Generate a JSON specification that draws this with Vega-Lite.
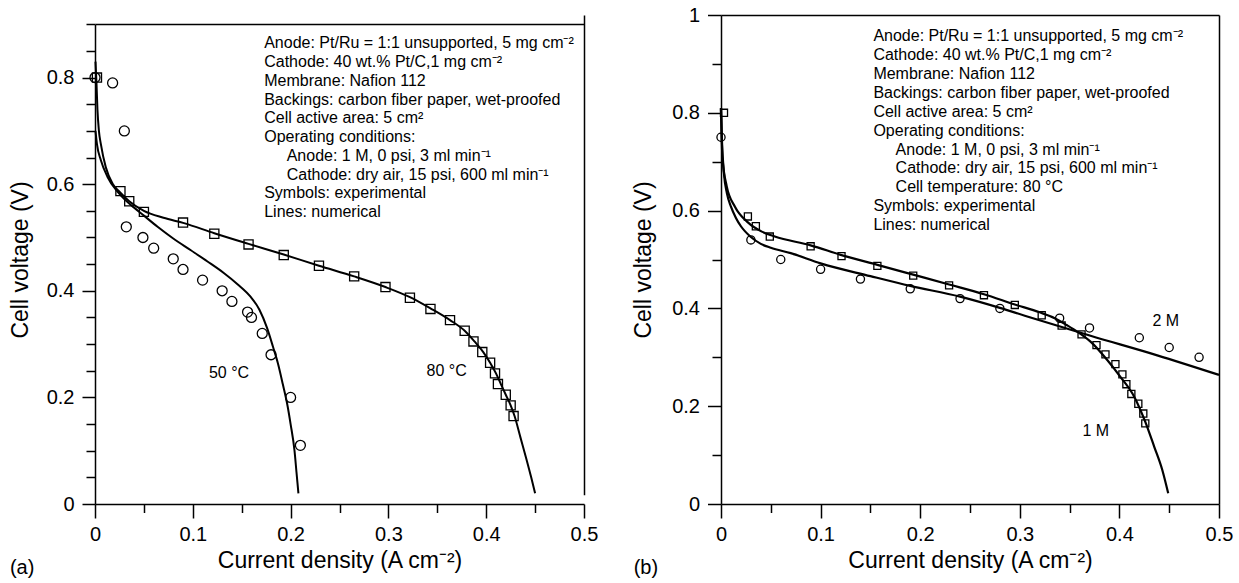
{
  "$schema": "https://vega.github.io/schema/vega-lite/v6.json",
  "padding": {"left": 9, "top": 5, "right": 5, "bottom": 5},
  "spacing": 34,
  "config": {
    "font": "Liberation Sans",
    "view": {"stroke": null},
    "axis": {"domainColor": "black", "domainWidth": 1.5, "tickColor": "black", "tickWidth": 1.5, "labelColor": "black", "titleColor": "black", "labelFontSize": 20, "titleFontSize": 23, "titleFontWeight": "normal", "gridColor": "black", "gridWidth": 1.5, "labelFont": "Liberation Sans", "titleFont": "Liberation Sans"},
    "text": {"font": "Liberation Sans", "color": "black"}
  },
  "datasets": {
    "a_lines": [
      {"series": "80 °C", "x": 0.0005, "y": 0.83}, {"series": "80 °C", "x": 0.0015, "y": 0.79}, {"series": "80 °C", "x": 0.0025, "y": 0.74}, {"series": "80 °C", "x": 0.004, "y": 0.70}, {"series": "80 °C", "x": 0.006, "y": 0.675}, {"series": "80 °C", "x": 0.011, "y": 0.632}, {"series": "80 °C", "x": 0.018, "y": 0.601}, {"series": "80 °C", "x": 0.026, "y": 0.584}, {"series": "80 °C", "x": 0.035, "y": 0.568}, {"series": "80 °C", "x": 0.05, "y": 0.55}, {"series": "80 °C", "x": 0.07, "y": 0.537}, {"series": "80 °C", "x": 0.091, "y": 0.527}, {"series": "80 °C", "x": 0.122, "y": 0.508}, {"series": "80 °C", "x": 0.157, "y": 0.488}, {"series": "80 °C", "x": 0.193, "y": 0.468}, {"series": "80 °C", "x": 0.229, "y": 0.447}, {"series": "80 °C", "x": 0.265, "y": 0.427}, {"series": "80 °C", "x": 0.297, "y": 0.407}, {"series": "80 °C", "x": 0.322, "y": 0.388}, {"series": "80 °C", "x": 0.343, "y": 0.367}, {"series": "80 °C", "x": 0.363, "y": 0.345}, {"series": "80 °C", "x": 0.378, "y": 0.325}, {"series": "80 °C", "x": 0.388, "y": 0.305}, {"series": "80 °C", "x": 0.397, "y": 0.285}, {"series": "80 °C", "x": 0.404, "y": 0.265}, {"series": "80 °C", "x": 0.41, "y": 0.245}, {"series": "80 °C", "x": 0.415, "y": 0.225}, {"series": "80 °C", "x": 0.42, "y": 0.205}, {"series": "80 °C", "x": 0.425, "y": 0.185}, {"series": "80 °C", "x": 0.429, "y": 0.165}, {"series": "80 °C", "x": 0.435, "y": 0.125}, {"series": "80 °C", "x": 0.441, "y": 0.085}, {"series": "80 °C", "x": 0.446, "y": 0.05}, {"series": "80 °C", "x": 0.45, "y": 0.02},
      {"series": "50 °C", "x": 0.0005, "y": 0.70}, {"series": "50 °C", "x": 0.002, "y": 0.675}, {"series": "50 °C", "x": 0.006, "y": 0.645}, {"series": "50 °C", "x": 0.0127, "y": 0.614}, {"series": "50 °C", "x": 0.023, "y": 0.586}, {"series": "50 °C", "x": 0.03, "y": 0.572}, {"series": "50 °C", "x": 0.04, "y": 0.556}, {"series": "50 °C", "x": 0.05, "y": 0.541}, {"series": "50 °C", "x": 0.064, "y": 0.52}, {"series": "50 °C", "x": 0.08, "y": 0.498}, {"series": "50 °C", "x": 0.098, "y": 0.476}, {"series": "50 °C", "x": 0.115, "y": 0.455}, {"series": "50 °C", "x": 0.132, "y": 0.433}, {"series": "50 °C", "x": 0.146, "y": 0.412}, {"series": "50 °C", "x": 0.159, "y": 0.389}, {"series": "50 °C", "x": 0.168, "y": 0.365}, {"series": "50 °C", "x": 0.176, "y": 0.33}, {"series": "50 °C", "x": 0.182, "y": 0.295}, {"series": "50 °C", "x": 0.187, "y": 0.264}, {"series": "50 °C", "x": 0.192, "y": 0.225}, {"series": "50 °C", "x": 0.197, "y": 0.183}, {"series": "50 °C", "x": 0.2, "y": 0.15}, {"series": "50 °C", "x": 0.204, "y": 0.1}, {"series": "50 °C", "x": 0.206, "y": 0.06}, {"series": "50 °C", "x": 0.208, "y": 0.02}
    ],
    "a_points": [
      {"series": "50 °C", "x": 0, "y": 0.8}, {"series": "50 °C", "x": 0.018, "y": 0.79}, {"series": "50 °C", "x": 0.03, "y": 0.70}, {"series": "50 °C", "x": 0.032, "y": 0.52}, {"series": "50 °C", "x": 0.049, "y": 0.50}, {"series": "50 °C", "x": 0.06, "y": 0.48}, {"series": "50 °C", "x": 0.08, "y": 0.46}, {"series": "50 °C", "x": 0.09, "y": 0.44}, {"series": "50 °C", "x": 0.11, "y": 0.42}, {"series": "50 °C", "x": 0.13, "y": 0.40}, {"series": "50 °C", "x": 0.14, "y": 0.38}, {"series": "50 °C", "x": 0.156, "y": 0.36}, {"series": "50 °C", "x": 0.16, "y": 0.35}, {"series": "50 °C", "x": 0.171, "y": 0.32}, {"series": "50 °C", "x": 0.18, "y": 0.28}, {"series": "50 °C", "x": 0.2, "y": 0.2}, {"series": "50 °C", "x": 0.21, "y": 0.11},
      {"series": "80 °C", "x": 0.002, "y": 0.8}, {"series": "80 °C", "x": 0.026, "y": 0.587}, {"series": "80 °C", "x": 0.035, "y": 0.568}, {"series": "80 °C", "x": 0.05, "y": 0.548}, {"series": "80 °C", "x": 0.09, "y": 0.528}, {"series": "80 °C", "x": 0.122, "y": 0.507}, {"series": "80 °C", "x": 0.157, "y": 0.487}, {"series": "80 °C", "x": 0.193, "y": 0.467}, {"series": "80 °C", "x": 0.229, "y": 0.447}, {"series": "80 °C", "x": 0.265, "y": 0.427}, {"series": "80 °C", "x": 0.297, "y": 0.407}, {"series": "80 °C", "x": 0.322, "y": 0.387}, {"series": "80 °C", "x": 0.343, "y": 0.366}, {"series": "80 °C", "x": 0.363, "y": 0.345}, {"series": "80 °C", "x": 0.378, "y": 0.325}, {"series": "80 °C", "x": 0.387, "y": 0.305}, {"series": "80 °C", "x": 0.396, "y": 0.285}, {"series": "80 °C", "x": 0.404, "y": 0.265}, {"series": "80 °C", "x": 0.409, "y": 0.245}, {"series": "80 °C", "x": 0.412, "y": 0.225}, {"series": "80 °C", "x": 0.42, "y": 0.205}, {"series": "80 °C", "x": 0.425, "y": 0.185}, {"series": "80 °C", "x": 0.428, "y": 0.165}
    ],
    "a_labels": [
      {"label": "50 °C", "x": 0.137, "y": 0.245},
      {"label": "80 °C", "x": 0.3595, "y": 0.25}
    ],
    "a_tag": [{"tag": "(a)", "x": -0.087, "y": -0.131}],
    "a_notes": [
      {"text": "Anode: Pt/Ru = 1:1 unsupported, 5 mg cm⁻²", "x": 0.173, "y": 0.855},
      {"text": "Cathode: 40 wt.% Pt/C,1 mg cm⁻²", "x": 0.173, "y": 0.8198},
      {"text": "Membrane: Nafion 112", "x": 0.173, "y": 0.7846},
      {"text": "Backings: carbon fiber paper, wet-proofed", "x": 0.173, "y": 0.7494},
      {"text": "Cell active area: 5 cm²", "x": 0.173, "y": 0.7142},
      {"text": "Operating conditions:", "x": 0.173, "y": 0.679},
      {"text": "Anode: 1 M, 0 psi, 3 ml min⁻¹", "x": 0.196, "y": 0.6438},
      {"text": "Cathode: dry air, 15 psi, 600 ml min⁻¹", "x": 0.196, "y": 0.6086},
      {"text": "Symbols: experimental", "x": 0.173, "y": 0.5734},
      {"text": "Lines: numerical", "x": 0.173, "y": 0.5382}
    ],
    "b_lines": [
      {"series": "1 M", "x": 0, "y": 0.81}, {"series": "1 M", "x": 0.0014, "y": 0.71}, {"series": "1 M", "x": 0.0057, "y": 0.65}, {"series": "1 M", "x": 0.014, "y": 0.608}, {"series": "1 M", "x": 0.027, "y": 0.576}, {"series": "1 M", "x": 0.041, "y": 0.557}, {"series": "1 M", "x": 0.054, "y": 0.547}, {"series": "1 M", "x": 0.09, "y": 0.529}, {"series": "1 M", "x": 0.121, "y": 0.509}, {"series": "1 M", "x": 0.157, "y": 0.489}, {"series": "1 M", "x": 0.193, "y": 0.469}, {"series": "1 M", "x": 0.229, "y": 0.449}, {"series": "1 M", "x": 0.264, "y": 0.429}, {"series": "1 M", "x": 0.295, "y": 0.408}, {"series": "1 M", "x": 0.32, "y": 0.392}, {"series": "1 M", "x": 0.335, "y": 0.38}, {"series": "1 M", "x": 0.347, "y": 0.366}, {"series": "1 M", "x": 0.358, "y": 0.352}, {"series": "1 M", "x": 0.371, "y": 0.332}, {"series": "1 M", "x": 0.388, "y": 0.294}, {"series": "1 M", "x": 0.401, "y": 0.26}, {"series": "1 M", "x": 0.415, "y": 0.219}, {"series": "1 M", "x": 0.426, "y": 0.168}, {"series": "1 M", "x": 0.435, "y": 0.117}, {"series": "1 M", "x": 0.443, "y": 0.07}, {"series": "1 M", "x": 0.449, "y": 0.022},
      {"series": "2 M", "x": 0, "y": 0.81}, {"series": "2 M", "x": 0.001, "y": 0.74}, {"series": "2 M", "x": 0.003, "y": 0.675}, {"series": "2 M", "x": 0.006, "y": 0.635}, {"series": "2 M", "x": 0.01, "y": 0.608}, {"series": "2 M", "x": 0.015, "y": 0.585}, {"series": "2 M", "x": 0.02, "y": 0.568}, {"series": "2 M", "x": 0.03, "y": 0.546}, {"series": "2 M", "x": 0.04, "y": 0.532}, {"series": "2 M", "x": 0.05, "y": 0.524}, {"series": "2 M", "x": 0.07, "y": 0.513}, {"series": "2 M", "x": 0.1, "y": 0.492}, {"series": "2 M", "x": 0.15, "y": 0.466}, {"series": "2 M", "x": 0.19, "y": 0.446}, {"series": "2 M", "x": 0.24, "y": 0.424}, {"series": "2 M", "x": 0.28, "y": 0.401}, {"series": "2 M", "x": 0.305, "y": 0.385}, {"series": "2 M", "x": 0.371, "y": 0.344}, {"series": "2 M", "x": 0.438, "y": 0.304}, {"series": "2 M", "x": 0.5, "y": 0.264}
    ],
    "b_points": [
      {"series": "2 M", "x": 0, "y": 0.75}, {"series": "2 M", "x": 0.03, "y": 0.54}, {"series": "2 M", "x": 0.06, "y": 0.50}, {"series": "2 M", "x": 0.1, "y": 0.48}, {"series": "2 M", "x": 0.14, "y": 0.46}, {"series": "2 M", "x": 0.19, "y": 0.44}, {"series": "2 M", "x": 0.24, "y": 0.42}, {"series": "2 M", "x": 0.28, "y": 0.40}, {"series": "2 M", "x": 0.34, "y": 0.38}, {"series": "2 M", "x": 0.37, "y": 0.36}, {"series": "2 M", "x": 0.42, "y": 0.34}, {"series": "2 M", "x": 0.45, "y": 0.32}, {"series": "2 M", "x": 0.48, "y": 0.30},
      {"series": "1 M", "x": 0.003, "y": 0.80}, {"series": "1 M", "x": 0.027, "y": 0.588}, {"series": "1 M", "x": 0.035, "y": 0.568}, {"series": "1 M", "x": 0.049, "y": 0.547}, {"series": "1 M", "x": 0.09, "y": 0.527}, {"series": "1 M", "x": 0.121, "y": 0.507}, {"series": "1 M", "x": 0.157, "y": 0.487}, {"series": "1 M", "x": 0.193, "y": 0.467}, {"series": "1 M", "x": 0.229, "y": 0.447}, {"series": "1 M", "x": 0.264, "y": 0.427}, {"series": "1 M", "x": 0.295, "y": 0.407}, {"series": "1 M", "x": 0.322, "y": 0.386}, {"series": "1 M", "x": 0.342, "y": 0.365}, {"series": "1 M", "x": 0.362, "y": 0.347}, {"series": "1 M", "x": 0.377, "y": 0.325}, {"series": "1 M", "x": 0.386, "y": 0.306}, {"series": "1 M", "x": 0.396, "y": 0.286}, {"series": "1 M", "x": 0.403, "y": 0.265}, {"series": "1 M", "x": 0.407, "y": 0.245}, {"series": "1 M", "x": 0.412, "y": 0.225}, {"series": "1 M", "x": 0.419, "y": 0.205}, {"series": "1 M", "x": 0.424, "y": 0.185}, {"series": "1 M", "x": 0.426, "y": 0.165}
    ],
    "b_labels": [
      {"label": "2 M", "x": 0.4466, "y": 0.374},
      {"label": "1 M", "x": 0.3763, "y": 0.149}
    ],
    "b_tag": [{"tag": "(b)", "x": -0.0877, "y": -0.144}],
    "b_notes": [
      {"text": "Anode: Pt/Ru = 1:1 unsupported, 5 mg cm⁻²", "x": 0.153, "y": 0.9475},
      {"text": "Cathode: 40 wt.% Pt/C,1 mg cm⁻²", "x": 0.153, "y": 0.9087},
      {"text": "Membrane: Nafion 112", "x": 0.153, "y": 0.8699},
      {"text": "Backings: carbon fiber paper, wet-proofed", "x": 0.153, "y": 0.8311},
      {"text": "Cell active area: 5 cm²", "x": 0.153, "y": 0.7923},
      {"text": "Operating conditions:", "x": 0.153, "y": 0.7535},
      {"text": "Anode: 1 M, 0 psi, 3 ml min⁻¹", "x": 0.1753, "y": 0.7147},
      {"text": "Cathode: dry air, 15 psi, 600 ml min⁻¹", "x": 0.1753, "y": 0.6759},
      {"text": "Cell temperature: 80 °C", "x": 0.1753, "y": 0.6371},
      {"text": "Symbols: experimental", "x": 0.153, "y": 0.5983},
      {"text": "Lines: numerical", "x": 0.153, "y": 0.5595}
    ]
  },
  "hconcat": [
    {
      "width": 489,
      "height": 489,
      "layer": [
        {
          "data": {"name": "a_lines"},
          "mark": {"type": "line", "color": "black", "strokeWidth": 2, "interpolate": "monotone"},
          "encoding": {
            "x": {"field": "x", "type": "quantitative", "scale": {"domain": [0, 0.5], "nice": false, "zero": false},
              "axis": {"title": "Current density (A cm⁻²)", "tickValues": [0,0.02,0.04,0.06,0.08,0.1,0.12,0.14,0.16,0.18,0.2,0.22,0.24,0.26,0.28,0.3,0.32,0.34,0.36,0.38,0.4,0.42,0.44,0.46,0.48,0.5], "format": "~g",
                "labelExpr": "abs(round(datum.value*10)-datum.value*10)<1e-6 ? datum.label : ''",
                "tickSize": {"condition": {"test": "abs(round(datum.value*10)-datum.value*10)<1e-6", "value": 14}, "value": 8.5},
                "grid": true, "gridDash": [479.7, 60],
                "gridOpacity": {"condition": {"test": "datum.value > 0.499", "value": 1}, "value": 0},
                "labelPadding": 6, "titlePadding": 5, "labelFlush": false, "labelOverlap": false}},
            "y": {"field": "y", "type": "quantitative", "scale": {"domain": [0, 0.9174], "nice": false, "zero": false},
              "axis": {"title": "Cell voltage (V)", "domain": true, "domainDash": [479.7, 60], "tickValues": [0,0.05,0.1,0.15,0.2,0.25,0.3,0.35,0.4,0.45,0.5,0.55,0.6,0.65,0.7,0.75,0.8,0.85,0.9], "format": "~g",
                "labelExpr": "abs(round(datum.value*5)-datum.value*5)<1e-6 ? datum.label : ''",
                "tickSize": {"condition": {"test": "abs(round(datum.value*5)-datum.value*5)<1e-6", "value": 13}, "value": 9},
                "grid": true,
                "gridOpacity": {"condition": {"test": "datum.value > 0.899", "value": 1}, "value": 0},
                "labelPadding": 8, "titlePadding": 14, "labelFlush": false, "labelOverlap": false}},
            "detail": {"field": "series", "type": "nominal"}
          }
        },
        {
          "data": {"name": "a_points"},
          "mark": {"type": "point", "filled": false, "color": "black", "strokeWidth": 1.3, "opacity": 1},
          "encoding": {
            "x": {"field": "x", "type": "quantitative", "scale": {"domain": [0, 0.5], "nice": false, "zero": false}},
            "y": {"field": "y", "type": "quantitative", "scale": {"domain": [0, 0.9174], "nice": false, "zero": false}},
            "shape": {"field": "series", "type": "nominal", "scale": {"domain": ["50 °C", "80 °C"], "range": ["circle", "square"]}, "legend": null},
            "size": {"field": "series", "type": "nominal", "scale": {"domain": ["50 °C", "80 °C"], "range": [100, 50]}, "legend": null}
          }
        },
        {
          "data": {"name": "a_labels"},
          "mark": {"type": "text", "fontSize": 16, "align": "center", "baseline": "middle"},
          "encoding": {
            "x": {"field": "x", "type": "quantitative", "scale": {"domain": [0, 0.5], "nice": false, "zero": false}},
            "y": {"field": "y", "type": "quantitative", "scale": {"domain": [0, 0.9174], "nice": false, "zero": false}},
            "text": {"field": "label", "type": "nominal"}
          }
        },
        {
          "data": {"name": "a_notes"},
          "mark": {"type": "text", "fontSize": 16, "align": "left", "baseline": "alphabetic"},
          "encoding": {
            "x": {"field": "x", "type": "quantitative", "scale": {"domain": [0, 0.5], "nice": false, "zero": false}},
            "y": {"field": "y", "type": "quantitative", "scale": {"domain": [0, 0.9174], "nice": false, "zero": false}},
            "text": {"field": "text", "type": "nominal"}
          }
        },
        {
          "data": {"name": "a_tag"},
          "mark": {"type": "text", "fontSize": 20, "align": "left", "baseline": "alphabetic"},
          "encoding": {
            "x": {"field": "x", "type": "quantitative", "scale": {"domain": [0, 0.5], "nice": false, "zero": false}},
            "y": {"field": "y", "type": "quantitative", "scale": {"domain": [0, 0.9174], "nice": false, "zero": false}},
            "text": {"field": "tag", "type": "nominal"}
          }
        }
      ]
    },
    {
      "width": 498,
      "height": 489,
      "layer": [
        {
          "data": {"name": "b_lines"},
          "mark": {"type": "line", "color": "black", "strokeWidth": 2.2, "interpolate": "monotone"},
          "encoding": {
            "x": {"field": "x", "type": "quantitative", "scale": {"domain": [0, 0.5], "nice": false, "zero": false},
              "axis": {"title": "Current density (A cm⁻²)", "tickValues": [0,0.02,0.04,0.06,0.08,0.1,0.12,0.14,0.16,0.18,0.2,0.22,0.24,0.26,0.28,0.3,0.32,0.34,0.36,0.38,0.4,0.42,0.44,0.46,0.48,0.5], "format": "~g",
                "labelExpr": "abs(round(datum.value*10)-datum.value*10)<1e-6 ? datum.label : ''",
                "tickSize": {"condition": {"test": "abs(round(datum.value*10)-datum.value*10)<1e-6", "value": 14}, "value": 8.5},
                "grid": true,
                "gridOpacity": {"condition": {"test": "datum.value > 0.499", "value": 1}, "value": 0},
                "labelPadding": 6, "titlePadding": 5, "labelFlush": false, "labelOverlap": false}},
            "y": {"field": "y", "type": "quantitative", "scale": {"domain": [0, 1], "nice": false, "zero": false},
              "axis": {"title": "Cell voltage (V)", "tickValues": [0,0.05,0.1,0.15,0.2,0.25,0.3,0.35,0.4,0.45,0.5,0.55,0.6,0.65,0.7,0.75,0.8,0.85,0.9,0.95,1], "format": "~g",
                "labelExpr": "abs(round(datum.value*5)-datum.value*5)<1e-6 ? datum.label : ''",
                "tickSize": {"condition": {"test": "abs(round(datum.value*5)-datum.value*5)<1e-6", "value": 13.5}, "value": 9},
                "grid": true,
                "gridOpacity": {"condition": {"test": "datum.value > 0.999", "value": 1}, "value": 0},
                "labelPadding": 8, "titlePadding": 16, "labelFlush": false, "labelOverlap": false}},
            "detail": {"field": "series", "type": "nominal"}
          }
        },
        {
          "data": {"name": "b_points"},
          "mark": {"type": "point", "filled": false, "color": "black", "strokeWidth": 1.3, "opacity": 1},
          "encoding": {
            "x": {"field": "x", "type": "quantitative", "scale": {"domain": [0, 0.5], "nice": false, "zero": false}},
            "y": {"field": "y", "type": "quantitative", "scale": {"domain": [0, 1], "nice": false, "zero": false}},
            "shape": {"field": "series", "type": "nominal", "scale": {"domain": ["2 M", "1 M"], "range": ["circle", "square"]}, "legend": null},
            "size": {"field": "series", "type": "nominal", "scale": {"domain": ["2 M", "1 M"], "range": [100, 50]}, "legend": null}
          }
        },
        {
          "data": {"name": "b_labels"},
          "mark": {"type": "text", "fontSize": 16, "align": "center", "baseline": "middle"},
          "encoding": {
            "x": {"field": "x", "type": "quantitative", "scale": {"domain": [0, 0.5], "nice": false, "zero": false}},
            "y": {"field": "y", "type": "quantitative", "scale": {"domain": [0, 1], "nice": false, "zero": false}},
            "text": {"field": "label", "type": "nominal"}
          }
        },
        {
          "data": {"name": "b_notes"},
          "mark": {"type": "text", "fontSize": 16, "align": "left", "baseline": "alphabetic"},
          "encoding": {
            "x": {"field": "x", "type": "quantitative", "scale": {"domain": [0, 0.5], "nice": false, "zero": false}},
            "y": {"field": "y", "type": "quantitative", "scale": {"domain": [0, 1], "nice": false, "zero": false}},
            "text": {"field": "text", "type": "nominal"}
          }
        },
        {
          "data": {"name": "b_tag"},
          "mark": {"type": "text", "fontSize": 20, "align": "left", "baseline": "alphabetic"},
          "encoding": {
            "x": {"field": "x", "type": "quantitative", "scale": {"domain": [0, 0.5], "nice": false, "zero": false}},
            "y": {"field": "y", "type": "quantitative", "scale": {"domain": [0, 1], "nice": false, "zero": false}},
            "text": {"field": "tag", "type": "nominal"}
          }
        }
      ]
    }
  ]
}
